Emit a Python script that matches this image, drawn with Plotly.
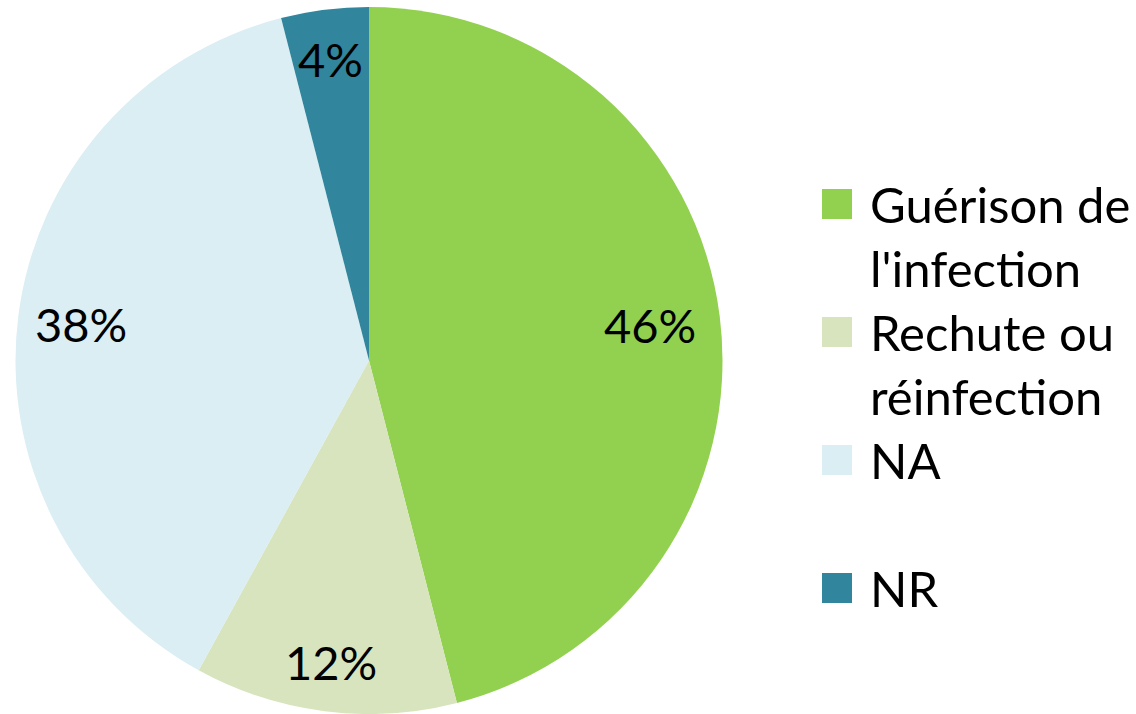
import math
import plotly.graph_objects as go

categories = ["Guérison de l'infection", "Rechute ou réinfection", "NA", "NR"]
legend_lines = [["Guérison de", "l'infection"], ["Rechute ou", "réinfection"], ["NA", ""], ["NR"]]
values = [46, 12, 38, 4]
colors = ["#92D050", "#D7E4BD", "#DAEEF3", "#31859C"]
# radial position of each data label, as a fraction of the radius
label_radius = [0.80, 0.86, 0.82, 0.86]

W, H = 1136, 714
FONT = "Lato"

# pie geometry (pixels)
cx, cy, R = 369, 360.5, 353.5
dom_x = [(cx - R) / W, (cx + R) / W]
dom_y = [(H - cy - R) / H, (H - cy + R) / H]

fig = go.Figure(go.Pie(
    labels=categories,
    values=values,
    marker=dict(colors=colors, line=dict(width=0)),
    sort=False,
    direction="clockwise",
    rotation=0,
    textinfo="none",
    hoverinfo="label+percent",
    showlegend=False,
    domain=dict(x=dom_x, y=dom_y),
))

# data labels placed along each slice's mid-angle
total = sum(values)
annotations = []
shapes = []
cum = 0
for v, lr in zip(values, label_radius):
    mid = (cum + v / 2) / total * 2 * math.pi
    cum += v
    px = cx + lr * R * math.sin(mid)
    py = cy - lr * R * math.cos(mid)
    annotations.append(dict(
        x=px / W, y=1 - py / H, xref="paper", yref="paper",
        text=f"{round(v / total * 100)}%", showarrow=False,
        xanchor="center", yanchor="middle",
        font=dict(family=FONT, size=47, color="#000000"),
    ))

# custom legend
leg_sq_x0, sq = 822, 30
leg_text_x = 868
leg_y0 = 204
line_h = 64
row = 0
for cat, lines, col in zip(categories, legend_lines, colors):
    yc = leg_y0 + row * line_h
    shapes.append(dict(
        type="rect", xref="paper", yref="paper",
        x0=leg_sq_x0 / W, x1=(leg_sq_x0 + sq) / W,
        y0=1 - (yc + sq / 2) / H, y1=1 - (yc - sq / 2) / H,
        fillcolor=col, line=dict(width=0),
    ))
    for i, ln in enumerate(lines):
        if ln:
            annotations.append(dict(
                x=leg_text_x / W, y=1 - (yc + i * line_h) / H,
                xref="paper", yref="paper", text=ln, showarrow=False,
                xanchor="left", yanchor="middle",
                font=dict(family=FONT, size=49, color="#000000"),
            ))
    row += 2

fig.update_layout(
    width=W, height=H,
    margin=dict(l=0, r=0, t=0, b=0),
    paper_bgcolor="white",
    plot_bgcolor="white",
    annotations=annotations,
    shapes=shapes,
    showlegend=False,
)

fig.write_html("out.html")
